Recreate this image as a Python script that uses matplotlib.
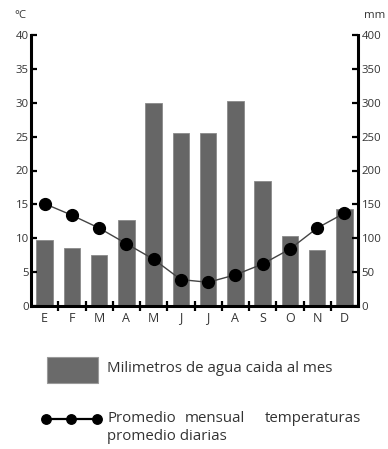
import numpy as np
import matplotlib.pyplot as plt
from matplotlib.lines import Line2D
from matplotlib.patches import Rectangle

plt.rcParams['font.family'] = ['Open Sans', 'DejaVu Sans']

meses = ['E', 'F', 'M', 'A', 'M', 'J', 'J', 'A', 'S', 'O', 'N', 'D']
lluvia_mm = [97, 85, 76, 127, 299, 256, 255, 302, 184, 104, 82, 143]
temp_c = [15.1, 13.4, 11.5, 9.2, 6.9, 3.9, 3.5, 4.6, 6.2, 8.4, 11.5, 13.7]
ticks_c = [0, 5, 10, 15, 20, 25, 30, 35, 40]
ticks_mm = [0, 50, 100, 150, 200, 250, 300, 350, 400]

W, H = 388, 449
fig = plt.figure(figsize=(W / 100, H / 100), dpi=100)

# ejes en pixeles de la imagen
x0, x1, ytop, ybot = 31, 358, 35, 306
ax = fig.add_axes([x0 / W, (H - ybot) / H, (x1 - x0) / W, (ybot - ytop) / H])
ax2 = ax.twinx()

txt = '#333333'
x = np.arange(len(meses)) + 0.5

# barras de precipitacion (eje derecho)
ax2.bar(x, lluvia_mm, width=0.6, color='#666666', edgecolor='#8a8a8a', linewidth=0.6)
ax2.set_ylim(0, 400)
ax2.set_yticks(ticks_mm)

# temperatura (eje izquierdo), por encima de las barras
ax.set_zorder(ax2.get_zorder() + 1)
ax.patch.set_visible(False)
ax.plot(x, temp_c, color='#444444', lw=1.0, marker='o', ms=8.5,
        mfc='black', mec='black')
ax.set_ylim(0, 40)
ax.set_xlim(0, 12)
ax.set_yticks(ticks_c)

# eje x: marcas en los limites de los meses, letras en el centro
ax.set_xticks(np.arange(1, 12))
ax.set_xticklabels([])
ax.set_xticks(x, minor=True)
ax.set_xticklabels(meses, minor=True)
ax.tick_params(axis='x', which='major', direction='inout', length=7, width=1.6, color='black')
ax.tick_params(axis='x', which='minor', length=0, pad=4, labelsize=9, labelcolor=txt)
ax.tick_params(axis='y', direction='in', length=4.3, width=1.6, pad=1.5,
               labelsize=8.2, labelcolor=txt)
ax2.tick_params(axis='y', direction='in', length=4.3, width=1.6, pad=2.5,
                labelsize=8.2, labelcolor=txt)

for a in (ax, ax2):
    a.spines['top'].set_visible(False)
    for s in ('left', 'right', 'bottom'):
        a.spines[s].set_linewidth(2.2)
        a.spines[s].set_color('black')
ax2.spines['bottom'].set_visible(False)
ax.spines['right'].set_visible(False)
ax2.spines['left'].set_visible(False)

# unidades
fig.text(14 / W, 1 - 16 / H, '°C', fontsize=8.2, color=txt, va='center', ha='left')
fig.text(364 / W, 1 - 16 / H, 'mm', fontsize=8.2, color=txt, va='center', ha='left')

# leyenda
fs = 10.8
fig.patches.append(Rectangle((47 / W, 1 - 383 / H), 51 / W, 26 / H,
                             transform=fig.transFigure, facecolor='#6a6a6a',
                             edgecolor='#9a9a9a', linewidth=0.8))
fig.text(107 / W, 1 - 369 / H, 'Milimetros de agua caida al mes',
         fontsize=fs, color=txt, va='center', ha='left')

fig.lines.append(Line2D([46 / W, 71 / W, 97 / W], [1 - 419 / H] * 3,
                        transform=fig.transFigure, color='black', lw=1.6,
                        marker='o', ms=6.8, mfc='black', mec='black'))
fig.text(107 / W, 1 - 419 / H, 'Promedio', fontsize=fs, color=txt, va='center', ha='left')
fig.text(215 / W, 1 - 419 / H, 'mensual', fontsize=fs, color=txt, va='center', ha='center')
fig.text(361 / W, 1 - 419 / H, 'temperaturas', fontsize=fs, color=txt, va='center', ha='right')
fig.text(107 / W, 1 - 437 / H, 'promedio diarias', fontsize=fs, color=txt, va='center', ha='left')

fig.savefig('out.png', dpi=100)
